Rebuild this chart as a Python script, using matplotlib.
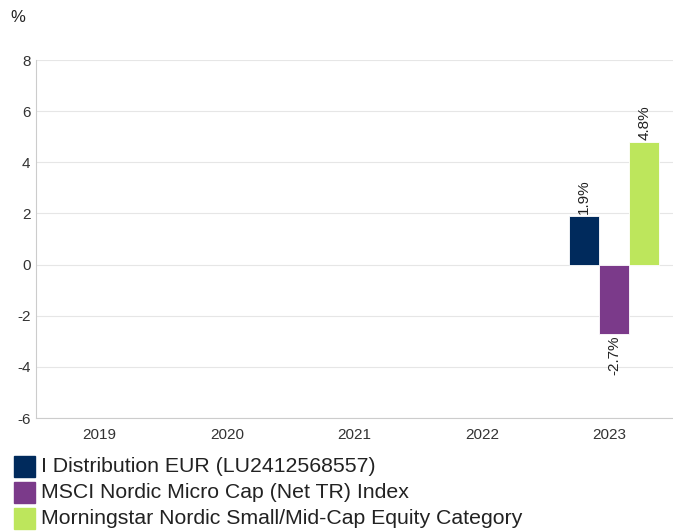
import matplotlib
matplotlib.use("Agg")
import matplotlib.pyplot as plt
import numpy as np
from matplotlib.patches import Rectangle

years = ["2019", "2020", "2021", "2022", "2023"]
series_names = [
    "I Distribution EUR (LU2412568557)",
    "MSCI Nordic Micro Cap (Net TR) Index",
    "Morningstar Nordic Small/Mid-Cap Equity Category",
]
fund = [None, None, None, None, 1.9]
index = [None, None, None, None, -2.7]
category = [None, None, None, None, 4.8]
colors = ["#002a5c", "#7b3a8a", "#bde65c"]
yticks = [-6, -4, -2, 0, 2, 4, 6, 8]

plt.rcParams['font.family'] = ['Liberation Sans', 'DejaVu Sans']

fig = plt.figure(figsize=(6.73, 5.32), dpi=100)
W, H = 673, 532
ax = fig.add_axes([36 / W, 1 - 418 / H, (673 - 36) / W, (418 - 60) / H])

x = np.arange(len(years))
bw = 0.236
shift = 0.04
for i, (vals, col) in enumerate(zip([fund, index, category], colors)):
    for xi, v in zip(x, vals):
        if v is None:
            continue
        xc = xi + shift + (i - 1) * bw
        ax.bar(xc, v, width=bw, color=col, edgecolor="white", linewidth=0.6, zorder=3)
        if v >= 0:
            ax.text(xc, v + 0.08, f"{v:.1f}%", rotation=90, ha="center", va="bottom",
                    fontsize=11, color="#222222")
        else:
            ax.text(xc, v - 0.08, f"{v:.1f}%", rotation=90, ha="center", va="top",
                    fontsize=11, color="#222222")

ax.set_xlim(-0.5, 4.5)
ax.set_ylim(-6, 8)
ax.set_yticks(yticks)
ax.set_yticklabels([str(t) for t in yticks])
ax.set_xticks(x)
ax.set_xticklabels(years)
ax.grid(axis="y", color="#e6e6e6", linewidth=0.8, zorder=0)
ax.set_axisbelow(True)
for s in ["top", "right"]:
    ax.spines[s].set_visible(False)
ax.spines["left"].set_color("#cccccc")
ax.spines["bottom"].set_color("#cccccc")
ax.tick_params(axis="both", length=0, labelsize=11, colors="#333333")
ax.tick_params(axis="x", pad=7)
ax.tick_params(axis="y", pad=4)

fig.text(10 / W, 1 - 17 / H, "%", fontsize=12, color="#222222", va="center", ha="left")

rows_y = [466.5, 492.5, 518.5]
for name, col, yy in zip(series_names, colors, rows_y):
    fig.patches.append(Rectangle((14 / W, 1 - (yy + 10.5) / H), 21 / W, 21 / H,
                                 transform=fig.transFigure, color=col))
    fig.text(41 / W, 1 - yy / H, name, fontsize=15.3, color="#222222", va="center", ha="left")

fig.savefig("out.png", dpi=100)
